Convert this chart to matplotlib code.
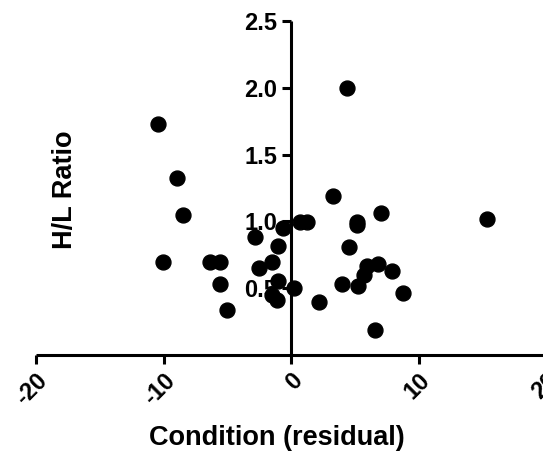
import matplotlib
matplotlib.use("Agg")
import matplotlib.pyplot as plt

plt.rcParams['font.family'] = ['Liberation Sans', 'DejaVu Sans']

condition = [-10.41, -8.92, -8.45, -10.01, -6.35, -5.57, -5.57, -5.04, -2.80, -2.49,
             -1.47, -1.00, -0.65, -1.04, -1.51, -1.12, 0.24, 0.71, 1.23, 2.22,
             4.37, 3.32, 5.20, 5.15, 7.06, 15.40, 4.58, 5.99, 6.85, 5.73,
             7.90, 4.03, 5.23, 8.81, 6.59]
hl_ratio = [1.729, 1.327, 1.046, 0.694, 0.694, 0.694, 0.529, 0.337, 0.886, 0.654,
            0.694, 0.816, 0.948, 0.554, 0.449, 0.412, 0.499, 0.998, 0.998, 0.399,
            1.998, 1.190, 0.998, 0.973, 1.060, 1.018, 0.808, 0.668, 0.679, 0.596,
            0.629, 0.529, 0.519, 0.466, 0.187]

x_ticks = [-20, -10, 0, 10, 20]
y_ticks = [0.5, 1.0, 1.5, 2.0, 2.5]

W, H = 543, 455
fig = plt.figure(figsize=(W/100, H/100), dpi=100)
ax = fig.add_axes([36/W, (H-355)/H, 510/W, 334/H])

ax.scatter(condition, hl_ratio, s=115, color='black', zorder=3, clip_on=False)

ax.set_xlim(-20, 20)
ax.set_ylim(0, 2.5)

ax.spines['left'].set_position(('data', 0))
ax.spines['bottom'].set_position(('data', 0))
ax.spines['right'].set_visible(False)
ax.spines['top'].set_visible(False)
for s in ('left', 'bottom'):
    ax.spines[s].set_linewidth(2.2)
    ax.spines[s].set_capstyle('butt')

ax.set_xticks(x_ticks)
ax.set_xticklabels([str(t) for t in x_ticks], rotation=45, ha='right',
                   rotation_mode='anchor', fontsize=17, fontweight='bold')
ax.set_yticks(y_ticks)
ax.set_yticklabels([f"{t:.1f}" for t in y_ticks], fontsize=17, fontweight='bold')
ax.tick_params(axis='both', direction='out', length=6.5, width=2.2, pad=3.5)

fig.text(65/W, 1 - 190/H, 'H/L Ratio', rotation=90, ha='center', va='center',
         fontsize=19.5, fontweight='bold')
fig.text(277/W, 1 - 438/H, 'Condition (residual)', ha='center', va='center',
         fontsize=19.5, fontweight='bold')

fig.savefig('out.png', dpi=100)
